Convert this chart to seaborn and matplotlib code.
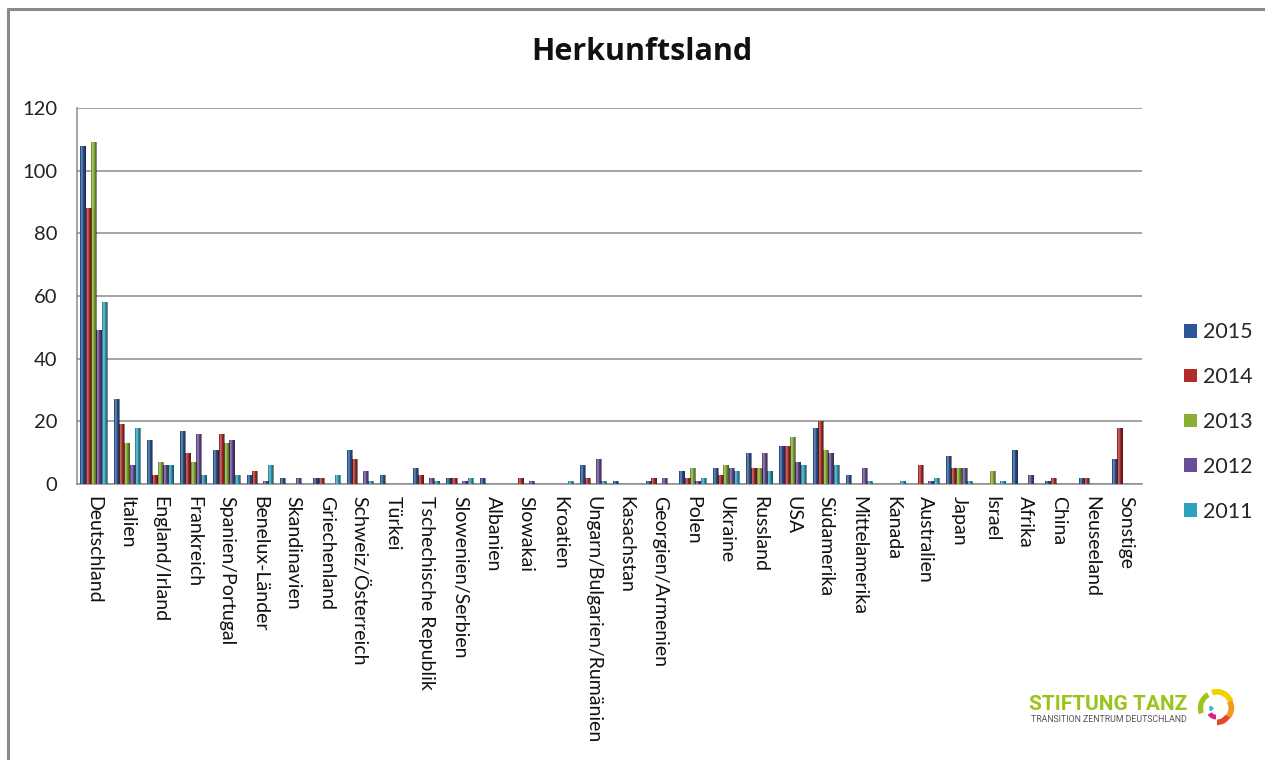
import numpy as np
import pandas as pd
import matplotlib
matplotlib.use("Agg")
import matplotlib.pyplot as plt
from matplotlib.patches import Wedge, Patch
import seaborn as sns

# Herkunftsländer der Teilnehmenden, 2011-2015
laender = [
    "Deutschland", "Italien", "England/Irland", "Frankreich", "Spanien/Portugal",
    "Benelux-Länder", "Skandinavien", "Griechenland", "Schweiz/Österreich", "Türkei",
    "Tschechische Republik", "Slowenien/Serbien", "Albanien", "Slowakai", "Kroatien",
    "Ungarn/Bulgarien/Rumänien", "Kasachstan", "Georgien/Armenien", "Polen", "Ukraine",
    "Russland", "USA", "Südamerika", "Mittelamerika", "Kanada", "Australien", "Japan",
    "Israel", "Afrika", "China", "Neuseeland", "Sonstige",
]
jahre = ["2015", "2014", "2013", "2012", "2011"]

w2015 = [108, 27, 14, 17, 11, 3, 2, 2, 11, 3, 5, 2, 2, 0, 0, 6, 1, 1, 4, 5, 10, 12, 18, 3, 0, 0, 9, 0, 11, 1, 2, 8]
w2014 = [88, 19, 3, 10, 16, 4, 0, 2, 8, 0, 3, 2, 0, 2, 0, 2, 0, 2, 2, 3, 5, 12, 20, 0, 0, 6, 5, 0, 0, 2, 2, 18]
w2013 = [109, 13, 7, 7, 13, 0, 0, 0, 0, 0, 0, 0, 0, 0, 0, 0, 0, 0, 5, 6, 5, 15, 11, 0, 0, 0, 5, 4, 0, 0, 0, 0]
w2012 = [49, 6, 6, 16, 14, 1, 2, 0, 4, 0, 2, 1, 0, 1, 0, 8, 0, 2, 1, 5, 10, 7, 10, 5, 0, 1, 5, 0, 3, 0, 0, 0]
w2011 = [58, 18, 6, 3, 3, 6, 0, 3, 1, 0, 1, 2, 0, 0, 1, 1, 0, 0, 2, 4, 4, 6, 6, 1, 1, 2, 1, 1, 0, 0, 0, 0]

farben = ["#2B5797", "#B22B2B", "#88B032", "#6A4C98", "#2FA3BD"]

werte = {"2015": w2015, "2014": w2014, "2013": w2013, "2012": w2012, "2011": w2011}
df = pd.DataFrame(
    [(land, jahr, werte[jahr][i]) for jahr in jahre for i, land in enumerate(laender)],
    columns=["Land", "Jahr", "Anzahl"],
)

sns.set_theme(style="white")
plt.rcParams["font.family"] = ["Lato", "DejaVu Sans"]

fig = plt.figure(figsize=(12.65, 7.6), dpi=100)
ax = fig.add_axes([77 / 1265, 1 - 484 / 760, (1142 - 77) / 1265, (484 - 108) / 760])

sns.barplot(
    data=df, x="Land", y="Anzahl", hue="Jahr", hue_order=jahre, order=laender,
    palette=farben, width=0.8, saturation=1, ax=ax, legend=False,
    linewidth=0, zorder=3,
)

# cylindrical shading on every bar
n = 64
t = np.linspace(0, 1, n)
shade = np.zeros((1, n, 4))
dark = np.clip(np.abs(t - 0.35) / 0.65, 0, 1) ** 1.3
shade[0, :, 3] = 0.55 * dark
light = np.exp(-((t - 0.3) / 0.12) ** 2)
shine = np.zeros((1, n, 4))
shine[0, :, :3] = 1.0
shine[0, :, 3] = 0.4 * light
for p in ax.patches:
    h = p.get_height()
    if h <= 0:
        continue
    x0, w = p.get_x(), p.get_width()
    for img in (shade, shine):
        im = ax.imshow(img, extent=(x0, x0 + w, 0, h), aspect="auto",
                       zorder=4, interpolation="bilinear")
        im.set_clip_path(p)

ax.set_xlim(-0.5, len(laender) - 0.5)
ax.set_ylim(0, 120)
ax.set_yticks(np.arange(0, 121, 20))
ax.set_yticklabels([str(v) for v in range(0, 121, 20)], fontsize=14.5, color="#222222")
ax.set_xticks(range(len(laender)))
ax.set_xticklabels(laender, rotation=-90, fontsize=14, color="#111111",
                   va="top", ha="center")
ax.set_xlabel("")
ax.set_ylabel("")
ax.grid(axis="y", color="#8c8c8c", linewidth=1.1, zorder=0)
ax.set_axisbelow(True)
for side in ("top", "right"):
    ax.spines[side].set_visible(False)
for side in ("left", "bottom"):
    ax.spines[side].set_color("#8c8c8c")
    ax.spines[side].set_linewidth(1.1)
ax.tick_params(axis="y", length=4, color="#8c8c8c", pad=10)
ax.tick_params(axis="x", length=0, pad=9)

fig.text(0.5075, 1 - 52 / 760, "Herkunftsland", ha="center", va="center",
         fontsize=22, fontweight="bold", color="#111111",
         family=["Open Sans", "DejaVu Sans"])

handles = [Patch(facecolor=c, edgecolor="none") for c in farben]
fig.legend(handles, jahre, loc="center left", bbox_to_anchor=(1173 / 1265, 1 - 422 / 760),
           frameon=False, fontsize=15.5, handlelength=0.6, handleheight=0.6,
           handletextpad=0.3, labelspacing=1.15, borderpad=0)

# frame lines at the top and left edge
fig.add_artist(plt.Line2D([8 / 1265, 8 / 1265], [0, 1 - 9 / 760],
                          transform=fig.transFigure, color="#8a8a8a", linewidth=2.2))
fig.add_artist(plt.Line2D([8 / 1265, 1], [1 - 9 / 760, 1 - 9 / 760],
                          transform=fig.transFigure, color="#8a8a8a", linewidth=2.2))

# logo
fig.text(1029 / 1265, 1 - 704 / 760, "STIFTUNG TANZ", ha="left", va="center",
         fontsize=15, fontweight="bold", color="#9CC31B",
         family=["Roboto", "DejaVu Sans"])
fig.text(1031 / 1265, 1 - 720 / 760, "TRANSITION ZENTRUM DEUTSCHLAND", ha="left",
         va="center", fontsize=6.3, color="#555555", family=["Roboto", "DejaVu Sans"])
lax = fig.add_axes([1193 / 1265, 1 - 728 / 760, 46 / 1265, 40 / 760])
lax.set_xlim(-1.2, 1.2)
lax.set_ylim(-1.05, 1.05)
lax.axis("off")
bogen = [
    (0.0, 0.0, 0.95, 120, 200, 0.28, "#9CC31B"),
    (0.05, 0.1, 0.9, 20, 110, 0.3, "#F5D000"),
    (0.1, 0.0, 0.85, -40, 30, 0.3, "#F39A1E"),
    (0.05, -0.1, 0.8, -90, -30, 0.3, "#E8452C"),
    (0.0, -0.1, 0.5, -150, -90, 0.25, "#D6247D"),
    (0.0, 0.0, 0.35, -200, -150, 0.2, "#3FA9E0"),
]
for cx, cy, r, a1, a2, wd, col in bogen:
    lax.add_patch(Wedge((cx, cy), r, a1, a2, width=wd, facecolor=col, edgecolor="none"))

fig.savefig("out.png", dpi=100, facecolor="white")
